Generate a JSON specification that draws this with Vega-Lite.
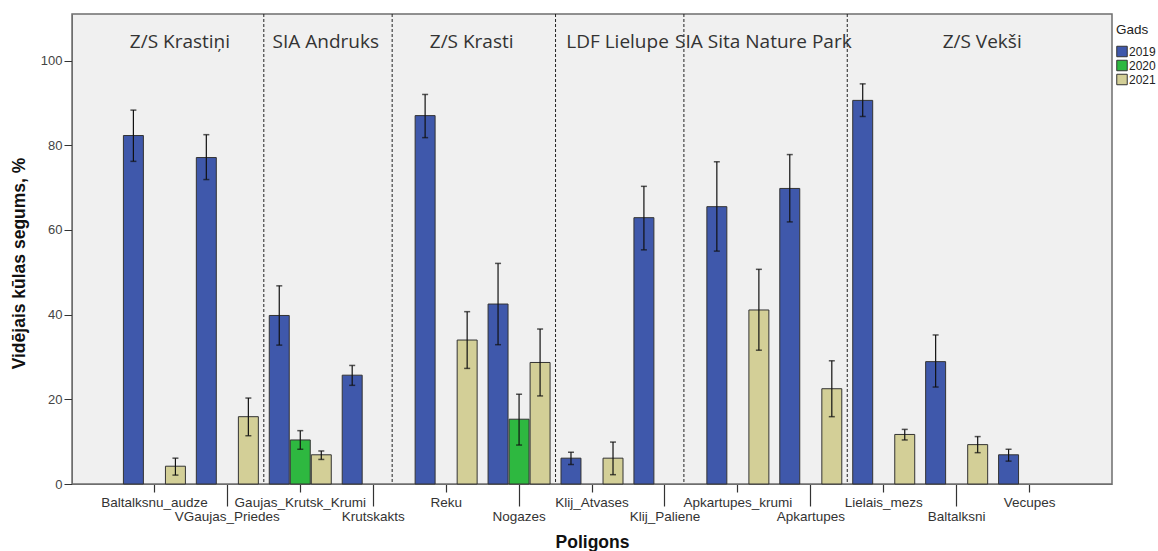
{
  "$schema": "https://vega.github.io/schema/vega-lite/v6.json",
  "width": 1040,
  "height": 470,
  "autosize": "none",
  "padding": {"left": 72, "top": 14, "right": 46, "bottom": 67},
  "background": "white",
  "config": {
    "view": {"fill": "#f0f0f0", "stroke": "#6e6e6e", "strokeWidth": 1.5}
  },
  "datasets": {
    "bars": [
      {"Poligons": "Baltalksnu_audze", "Gads": "2019", "mean": 82.3, "lo": 76.2, "hi": 88.3},
      {"Poligons": "Baltalksnu_audze", "Gads": "2021", "mean": 4.2, "lo": 2.1, "hi": 6.1},
      {"Poligons": "VGaujas_Priedes", "Gads": "2019", "mean": 77.1, "lo": 71.9, "hi": 82.5},
      {"Poligons": "VGaujas_Priedes", "Gads": "2021", "mean": 15.9, "lo": 11.4, "hi": 20.3},
      {"Poligons": "Gaujas_Krutsk_Krumi", "Gads": "2019", "mean": 39.8, "lo": 32.8, "hi": 46.8},
      {"Poligons": "Gaujas_Krutsk_Krumi", "Gads": "2020", "mean": 10.4, "lo": 8.2, "hi": 12.6},
      {"Poligons": "Gaujas_Krutsk_Krumi", "Gads": "2021", "mean": 6.9, "lo": 5.8, "hi": 7.8},
      {"Poligons": "Krutskakts", "Gads": "2019", "mean": 25.7, "lo": 23.3, "hi": 28.0},
      {"Poligons": "Reku", "Gads": "2019", "mean": 87.0, "lo": 81.8, "hi": 92.0},
      {"Poligons": "Reku", "Gads": "2021", "mean": 34.0, "lo": 27.3, "hi": 40.7},
      {"Poligons": "Nogazes", "Gads": "2019", "mean": 42.5, "lo": 32.9, "hi": 52.1},
      {"Poligons": "Nogazes", "Gads": "2020", "mean": 15.3, "lo": 9.2, "hi": 21.2},
      {"Poligons": "Nogazes", "Gads": "2021", "mean": 28.7, "lo": 20.8, "hi": 36.6},
      {"Poligons": "Klij_Atvases", "Gads": "2019", "mean": 6.1, "lo": 4.6, "hi": 7.5},
      {"Poligons": "Klij_Atvases", "Gads": "2021", "mean": 6.1, "lo": 2.2, "hi": 9.9},
      {"Poligons": "Klij_Paliene", "Gads": "2019", "mean": 62.9, "lo": 55.3, "hi": 70.3},
      {"Poligons": "Apkartupes_krumi", "Gads": "2019", "mean": 65.5, "lo": 55.0, "hi": 76.1},
      {"Poligons": "Apkartupes_krumi", "Gads": "2021", "mean": 41.1, "lo": 31.6, "hi": 50.7},
      {"Poligons": "Apkartupes", "Gads": "2019", "mean": 69.8, "lo": 61.9, "hi": 77.8},
      {"Poligons": "Apkartupes", "Gads": "2021", "mean": 22.5, "lo": 15.9, "hi": 29.1},
      {"Poligons": "Lielais_mezs", "Gads": "2019", "mean": 90.6, "lo": 86.8, "hi": 94.5},
      {"Poligons": "Lielais_mezs", "Gads": "2021", "mean": 11.7, "lo": 10.4, "hi": 12.9},
      {"Poligons": "Baltalksni", "Gads": "2019", "mean": 28.9, "lo": 22.9, "hi": 35.2},
      {"Poligons": "Baltalksni", "Gads": "2021", "mean": 9.3, "lo": 7.4, "hi": 11.2},
      {"Poligons": "Vecupes", "Gads": "2019", "mean": 6.9, "lo": 5.4, "hi": 8.2}
    ],
    "bounds_a": [
      {"Poligons": "VGaujas_Priedes"},
      {"Poligons": "Nogazes"},
      {"Poligons": "Apkartupes"}
    ],
    "bounds_b": [
      {"Poligons": "Krutskakts"},
      {"Poligons": "Klij_Paliene"}
    ],
    "panels": [
      {"panel": "Z/S Krastiņi", "Poligons": "Baltalksnu_audze"},
      {"panel": "SIA Andruks", "Poligons": "Gaujas_Krutsk_Krumi"},
      {"panel": "Z/S Krasti", "Poligons": "Reku"},
      {"panel": "LDF Lielupe", "Poligons": "Klij_Atvases"},
      {"panel": "SIA Sita Nature Park", "Poligons": "Apkartupes_krumi"},
      {"panel": "Z/S Vekši", "Poligons": "Baltalksni"}
    ]
  },
  "layer": [
    {
      "data": {"name": "bars"},
      "mark": {"type": "bar", "stroke": "#333333", "strokeWidth": 1},
      "encoding": {
        "x": {
          "field": "Poligons",
          "type": "nominal",
          "title": "Poligons",
          "scale": {
            "domain": ["Baltalksnu_audze", "VGaujas_Priedes", "Gaujas_Krutsk_Krumi", "Krutskakts", "Reku", "Nogazes", "Klij_Atvases", "Klij_Paliene", "Apkartupes_krumi", "Apkartupes", "Lielais_mezs", "Baltalksni", "Vecupes"],
            "paddingInner": 0,
            "paddingOuter": 0.63
          },
          "axis": {
            "labelAngle": 0,
            "labelOverlap": false,
            "labelLimit": 0,
            "labelFont": "Liberation Sans",
            "labelFontSize": 13.5,
            "labelColor": "#333333",
            "tickColor": "#333333",
            "tickWidth": 1.2,
            "tickSize": {"condition": {"test": "indexof(['VGaujas_Priedes','Krutskakts','Nogazes','Klij_Paliene','Apkartupes','Baltalksni'], datum.value) >= 0", "value": 22}, "value": 8},
            "labelPadding": 3.5,
            "domainColor": "#6e6e6e",
            "titleFont": "Liberation Sans",
            "titleFontSize": 17.5,
            "titleFontWeight": "bold",
            "titleColor": "#111111",
            "titlePadding": 10
          }
        },
        "xOffset": {
          "field": "Gads",
          "type": "nominal",
          "scale": {"domain": ["2019", "2020", "2021"], "paddingInner": 0.05, "paddingOuter": 0.26}
        },
        "y": {
          "field": "mean",
          "type": "quantitative",
          "title": "Vidējais kūlas segums, %",
          "scale": {"domain": [0, 111], "nice": false, "zero": true},
          "axis": {
            "values": [0, 20, 40, 60, 80, 100],
            "grid": false,
            "tickSize": 8,
            "tickColor": "#333333",
            "labelPadding": 2,
            "labelFont": "Liberation Sans",
            "labelFontSize": 13,
            "labelColor": "#444444",
            "domainColor": "#6e6e6e",
            "titleFont": "Liberation Sans",
            "titleFontSize": 17.5,
            "titleFontWeight": "bold",
            "titleColor": "#111111",
            "titlePadding": 12,
            "titleY": 249
          }
        },
        "color": {
          "field": "Gads",
          "type": "nominal",
          "scale": {"domain": ["2019", "2020", "2021"], "range": ["#3f58ab", "#2eb840", "#d3cf97"]},
          "legend": {
            "title": "Gads",
            "orient": "none",
            "legendX": 1044,
            "legendY": 9,
            "symbolType": "square",
            "symbolSize": 110,
            "symbolStrokeColor": "#333333",
            "symbolStrokeWidth": 1,
            "labelFont": "Liberation Sans",
            "labelFontSize": 12,
            "labelColor": "#222222",
            "labelOffset": 1,
            "labelLimit": 0,
            "rowPadding": -2,
            "titleFont": "Liberation Sans",
            "titleFontSize": 13.5,
            "titleFontWeight": "normal",
            "titleColor": "#222222",
            "titlePadding": 9
          }
        }
      }
    },
    {
      "data": {"name": "bars"},
      "mark": {"type": "rule", "color": "#111111", "strokeWidth": 1.2},
      "encoding": {
        "x": {"field": "Poligons", "type": "nominal", "title": "Poligons"},
        "xOffset": {"field": "Gads", "type": "nominal"},
        "y": {"field": "lo", "type": "quantitative", "title": "Vidējais kūlas segums, %"},
        "y2": {"field": "hi"}
      }
    },
    {
      "data": {"name": "bars"},
      "mark": {"type": "tick", "color": "#111111", "size": 6, "thickness": 1.5},
      "encoding": {
        "x": {"field": "Poligons", "type": "nominal", "title": "Poligons"},
        "xOffset": {"field": "Gads", "type": "nominal"},
        "y": {"field": "lo", "type": "quantitative", "title": "Vidējais kūlas segums, %"}
      }
    },
    {
      "data": {"name": "bars"},
      "mark": {"type": "tick", "color": "#111111", "size": 6, "thickness": 1.5},
      "encoding": {
        "x": {"field": "Poligons", "type": "nominal", "title": "Poligons"},
        "xOffset": {"field": "Gads", "type": "nominal"},
        "y": {"field": "hi", "type": "quantitative", "title": "Vidējais kūlas segums, %"}
      }
    },
    {
      "data": {"name": "bounds_a"},
      "mark": {"type": "rule", "color": "#222222", "strokeWidth": 1, "strokeDash": [3, 2]},
      "encoding": {
        "x": {"field": "Poligons", "type": "nominal", "bandPosition": 1, "title": "Poligons"}
      }
    },
    {
      "data": {"name": "bounds_b"},
      "mark": {"type": "rule", "color": "#222222", "strokeWidth": 1, "strokeDash": [3, 2]},
      "encoding": {
        "x": {"field": "Poligons", "type": "nominal", "bandPosition": 0.76, "title": "Poligons"}
      }
    },
    {
      "data": {"name": "panels"},
      "mark": {"type": "text", "font": "Open Sans", "fontSize": 19, "color": "#333333", "align": "center", "baseline": "middle"},
      "encoding": {
        "x": {"field": "Poligons", "type": "nominal", "bandPosition": 0.85, "title": "Poligons"},
        "y": {"datum": 104.5, "type": "quantitative", "title": "Vidējais kūlas segums, %"},
        "text": {"field": "panel"}
      }
    }
  ]
}
